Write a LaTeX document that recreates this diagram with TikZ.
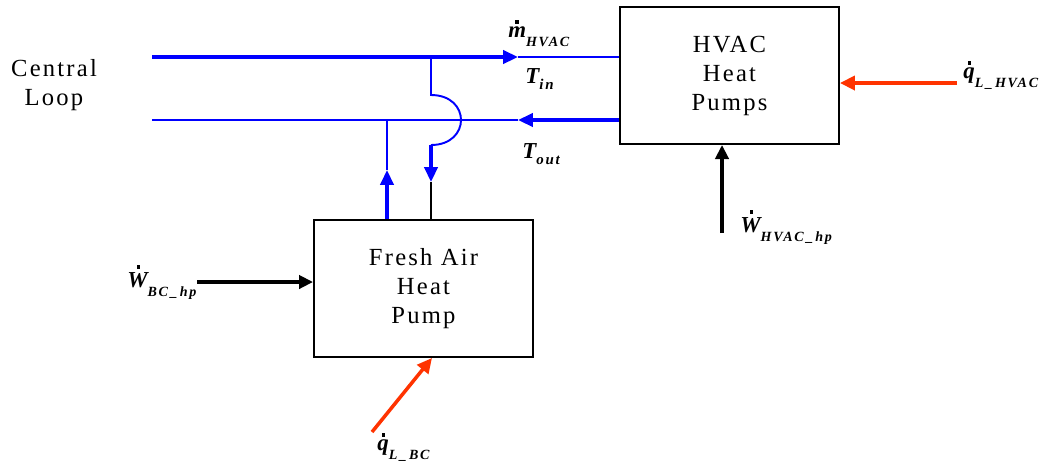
\documentclass[tikz,border=0pt]{standalone}
\usepackage{fontspec}
\setmainfont{Liberation Serif}
\newfontfamily\widefam{Liberation Serif}[LetterSpace=9]
\newfontfamily\subfam{Liberation Serif}[LetterSpace=12]
\usetikzlibrary{arrows.meta,positioning}
\definecolor{loopblue}{RGB}{0,0,255}
\definecolor{heatred}{RGB}{255,51,0}
% symbol with a dot on top and a lowered subscript
\newcommand{\flux}[4]{{\fontsize{13}{13}\selectfont\bfseries\itshape\rlap{\hspace{#2}\raisebox{#3}{\rule{1.9pt}{1.9pt}}}#1}\raisebox{-5.5pt}{\fontsize{8}{8}\selectfont\subfam\bfseries\itshape #4}}
\newcommand{\temp}[1]{{\fontsize{13}{13}\selectfont\bfseries\itshape T}\raisebox{-3.5pt}{\fontsize{8.5}{8.5}\selectfont\subfam\bfseries\itshape #1}}

\begin{document}
\begin{tikzpicture}[x=0.02cm, y=-0.02cm,
    unit/.style={draw, line width=1.1pt, minimum width=4.38cm, minimum height=2.74cm, inner sep=0pt,
      align=center, font=\fontsize{14}{16.5}\selectfont\widefam},
    pipe/.style={loopblue, line width=1.1pt},
    flow/.style={loopblue, line width=2pt, -{Triangle[length=8.5pt, width=7.5pt]}},
    work/.style={black, line width=2pt, -{Triangle[length=8pt, width=7.5pt]}},
    heat/.style={heatred, line width=2pt, -{Triangle[length=8.5pt, width=8pt]}},
    lbl/.style={inner sep=0pt, anchor=base west}]
  \useasboundingbox (0,0) rectangle (1047,468);

  % Units
  \node[unit] (hvac) at (729.5,75.5) {HVAC\\Heat\\Pumps};
  \node[unit] (fresh) at (423.5,288.5) {Fresh Air\\Heat\\Pump};
  \node[align=center, font=\fontsize{14}{16.5}\selectfont\widefam] (loop) at (54,85) {Central\\Loop};

  % Central loop supply and return
  \coordinate (supA) at (152,57);
  \coordinate (supT) at (518,57);
  \coordinate (retA) at (152,120);
  \coordinate (retT) at (518,120);
  \draw[flow] (supA) -- (supT);
  \draw[pipe] (supT) -- (supT -| hvac.west);
  \draw[flow] (retT -| hvac.west) -- (retT);
  \draw[pipe] (retT) -- (retA);

  % Branch down to the fresh air unit, hopping over the return line
  \coordinate (tapS) at (431,57);
  \coordinate (hopA) at (431,95);
  \coordinate (hopB) at (431,145);
  \coordinate (downT) at (431,182);
  \draw[pipe] (tapS) -- (hopA) .. controls (471,95) and (471,145) .. (hopB);
  \draw[flow] (hopB) -- (downT);
  \draw[line width=1.1pt] (downT) -- (downT |- fresh.north);

  % Branch back up to the return line
  \coordinate (upT) at (387,170);
  \coordinate (upR) at (387,120);
  \draw[flow] (upT |- fresh.north) -- (upT);
  \draw[pipe] (upT) -- (upR);

  % Work and heat inputs
  \coordinate (wbc) at (197,282);
  \coordinate (whvac) at (722,233);
  \coordinate (qhvac) at (957,83);
  \coordinate (qbc) at (372,432);
  \draw[work] (wbc) -- (wbc -| fresh.west);
  \draw[work] (whvac) -- (whvac |- hvac.south);
  \draw[heat] (qhvac) -- (qhvac -| hvac.east);
  \draw[heat] (qbc) -- ([xshift=0.17cm]fresh.south);

  % Labels
  \node[lbl] (mdot) at (508,37) {\flux{m}{0.3em}{0.58em}{HVAC}};
  \node[lbl] (tin) at (525,83) {\temp{in}};
  \node[lbl] (tout) at (522,158) {\temp{out}};
  \node[lbl] (qlhvac) at (963,78) {\flux{q}{0.2em}{0.58em}{L\,\_\,HVAC}};
  \node[lbl] (whp) at (740,232) {\flux{W}{0.42em}{0.8em}{HVAC\,\_\,hp}};
  \node[lbl] (wbchp) at (127,287) {\flux{W}{0.42em}{0.8em}{BC\,\_\,hp}};
  \node[lbl] (qlbc) at (377,450) {\flux{q}{0.2em}{0.58em}{L\,\_\,BC}};
\end{tikzpicture}
\end{document}
